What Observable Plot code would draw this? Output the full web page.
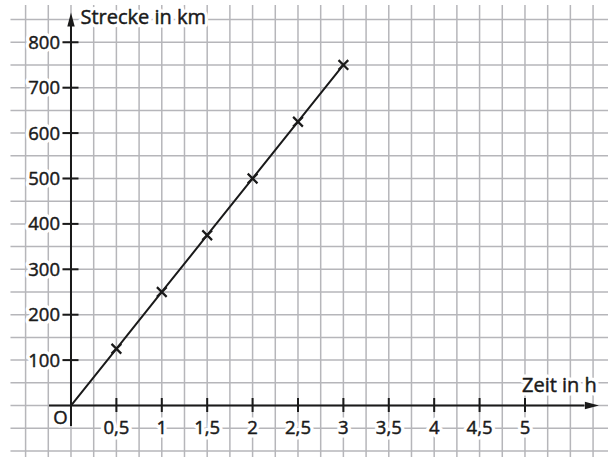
<!DOCTYPE html>
<html><head><meta charset="utf-8">
<script src="https://cdn.jsdelivr.net/npm/d3@7"></script>
<script src="https://cdn.jsdelivr.net/npm/@observablehq/plot@0.6"></script>
<style>html,body{margin:0;padding:0;background:#fff} #chart svg{display:block}</style>
</head><body><div id="chart"></div>
<script>
// ---- data ----
const hours = [0, 0.5, 1, 1.5, 2, 2.5, 3];
const distanceKm = [0, 125, 250, 375, 500, 625, 750];
const xTickValues = [0.5, 1, 1.5, 2, 2.5, 3, 3.5, 4, 4.5, 5];
const xTickLabels = ["0,5", "1", "1,5", "2", "2,5", "3", "3,5", "4", "4,5", "5"];
const yTickValues = [100, 200, 300, 400, 500, 600, 700, 800];
const yTickLabels = ["100", "200", "300", "400", "500", "600", "700", "800"];
const xTitle = "Zeit in h";
const yTitle = "Strecke in km";
const originLabel = "O";

// ---- layout ----
const W = 616, H = 457;
const xDomain = [-0.7764, 6.008];
const yDomain = [-114.5, 892];
const hPerPx = (xDomain[1] - xDomain[0]) / W;
const kmPerPx = (yDomain[1] - yDomain[0]) / H;
const gridX = d3.range(-2, 24).map(k => k * 0.25);
const gridY = d3.range(-2, 18).map(k => k * 50);
const gridLeft = -0.661, gridRight = 5.92, gridTop = 881;
const yAxisBottom = -46, yAxisTop = 835;
const xAxisLeft = -0.237, xAxisRight = 5.66;
const gridColor = "#b6b6ba";
const ink = "#1a1a1a";

const data = hours.map((h, i) => ({h, km: distanceKm[i]}));
const xTicks = xTickValues.map((v, i) => ({v, label: xTickLabels[i]}));
const yTicks = yTickValues.map((v, i) => ({v, label: yTickLabels[i]}));

const arrowHead = {
  draw(ctx) {
    const L = 14, Wd = 3.7;
    ctx.moveTo(0, -L);
    ctx.lineTo(Wd, 0);
    ctx.lineTo(-Wd, 0);
    ctx.closePath();
  }
};

// each label drawn twice: white halo underneath, slightly emboldened ink on top
function label(dataArr, opts, size) {
  return [
    Plot.text(dataArr, {...opts, fill: "white", stroke: "white", strokeWidth: 7, fontSize: size}),
    Plot.text(dataArr, {...opts, fill: ink, stroke: ink, strokeWidth: 0.45, fontSize: size})
  ];
}

const chart = Plot.plot({
  width: W, height: H,
  marginTop: 0, marginRight: 0, marginBottom: 0, marginLeft: 0,
  x: {domain: xDomain, axis: null},
  y: {domain: yDomain, axis: null},
  style: {background: "white", fontFamily: "'Open Sans', 'Noto Sans', sans-serif", fontSize: "18.5px"},
  marks: [
    Plot.ruleY(gridY, {x1: gridLeft, x2: gridRight, stroke: gridColor, strokeWidth: 1.5}),
    Plot.ruleX(gridX, {y1: yDomain[0], y2: gridTop, stroke: gridColor, strokeWidth: 1.5}),
    // labels with white background
    ...label(yTicks, {x: 0, y: "v", text: "label", textAnchor: "end", dx: -11, dy: 0.5}, 18.5),
    ...label(xTicks, {x: "v", y: 0, text: "label", textAnchor: "middle", dy: 23}, 18.5),
    ...label([originLabel], {x: 0, y: 0, text: d => d, textAnchor: "middle", dx: -10.5, dy: 12.5}, 18.5),
    ...label([yTitle], {x: 0, y: gridTop, text: d => d, textAnchor: "start", dx: 9.5, dy: 12}, 20),
    ...label([xTitle], {x: 5, y: 0, text: d => d, textAnchor: "start", dx: -3, dy: -20}, 20),
    // axes
    Plot.ruleX([0], {y1: yAxisBottom, y2: yAxisTop, stroke: ink, strokeWidth: 2}),
    Plot.ruleY([0], {x1: xAxisLeft, x2: xAxisRight, stroke: ink, strokeWidth: 2}),
    Plot.dot([0], {x: 0, y: yAxisTop, symbol: arrowHead, r: 1, fill: ink, stroke: null}),
    Plot.dot([0], {x: xAxisRight, y: 0, symbol: arrowHead, r: 1, fill: ink, stroke: null, rotate: 90}),
    // ticks
    Plot.ruleX(xTickValues, {y1: -7 * kmPerPx, y2: 7 * kmPerPx, stroke: ink, strokeWidth: 2}),
    Plot.ruleY(yTickValues, {x1: -8 * hPerPx, x2: 8 * hPerPx, stroke: ink, strokeWidth: 2}),
    // data
    Plot.line(data, {x: "h", y: "km", stroke: ink, strokeWidth: 2}),
    Plot.dot(data.filter(d => d.h > 0), {x: "h", y: "km", symbol: "times", r: 4.5, stroke: ink, strokeWidth: 2.2})
  ]
});
document.getElementById("chart").appendChild(chart);
</script>
</body></html>
